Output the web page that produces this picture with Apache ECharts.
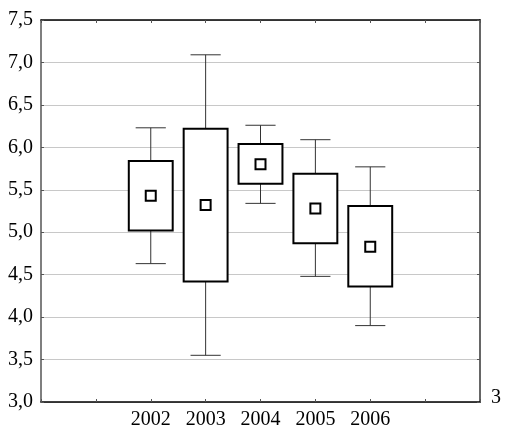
<!DOCTYPE html>
<html>
<head>
<meta charset="utf-8">
<script src="https://cdn.jsdelivr.net/npm/echarts@6/dist/echarts.min.js"></script>
<style>
  html, body { margin: 0; padding: 0; background: #fff; }
  #main { width: 507px; height: 428px; }
</style>
</head>
<body>
<div id="main"></div>
<script>
// slots on the x axis: two empty ones on each side of the years
const slots = ['', '', '2002', '2003', '2004', '2005', '2006', '', ''];
const years = ['2002', '2003', '2004', '2005', '2006'];
const means = [5.43, 5.32, 5.80, 5.28, 4.83];
const boxLow = [5.02, 4.42, 5.57, 4.87, 4.36];
const boxHigh = [5.84, 6.22, 6.04, 5.69, 5.31];
const whiskerLow = [4.63, 3.55, 5.34, 4.48, 3.90];
const whiskerHigh = [6.23, 7.09, 6.26, 6.09, 5.77];
const yTicks = [3.0, 3.5, 4.0, 4.5, 5.0, 5.5, 6.0, 6.5, 7.0, 7.5];

const font = '"Liberation Serif", "DejaVu Serif", serif';

let boxData = [];
for (let i = 0; i < years.length; i++) {
    boxData.push([slots.indexOf(years[i]), whiskerLow[i], boxLow[i], means[i], boxHigh[i], whiskerHigh[i]]);
}

function renderBox(params, api) {
    const x = api.value(0);
    const band = api.size([1, 0])[0];
    const pLo = api.coord([x, api.value(1)]);
    const pQ1 = api.coord([x, api.value(2)]);
    const pM = api.coord([x, api.value(3)]);
    const pQ3 = api.coord([x, api.value(4)]);
    const pHi = api.coord([x, api.value(5)]);
    const cx = pM[0];
    const bw = band * 0.8;
    const cw = band * 0.55;
    const ms = 10;
    const thin = { stroke: '#333', lineWidth: 1, fill: null };
    return {
        type: 'group',
        children: [
            { type: 'line', shape: { x1: cx, y1: pHi[1], x2: cx, y2: pQ3[1] }, style: thin },
            { type: 'line', shape: { x1: cx, y1: pQ1[1], x2: cx, y2: pLo[1] }, style: thin },
            { type: 'line', shape: { x1: cx - cw / 2, y1: pHi[1], x2: cx + cw / 2, y2: pHi[1] }, style: thin },
            { type: 'line', shape: { x1: cx - cw / 2, y1: pLo[1], x2: cx + cw / 2, y2: pLo[1] }, style: thin },
            { type: 'rect', shape: { x: cx - bw / 2, y: pQ3[1], width: bw, height: pQ1[1] - pQ3[1] },
              style: { fill: '#fff', stroke: '#000', lineWidth: 2 } },
            { type: 'rect', shape: { x: cx - ms / 2, y: pM[1] - ms / 2, width: ms, height: ms },
              style: { fill: '#fff', stroke: '#000', lineWidth: 2 } }
        ]
    };
}

const chart = echarts.init(document.getElementById('main'));
chart.setOption({
    animation: false,
    backgroundColor: '#fff',
    title: {
        text: '3', right: 1, top: 383,
        textStyle: { fontFamily: font, fontSize: 20, fontWeight: 'normal', color: '#000' }
    },
    grid: { left: 41, right: 27, top: 20, bottom: 26, outerBoundsMode: 'none' },
    xAxis: [{
        type: 'category',
        data: slots,
        boundaryGap: false,
        axisLine: { lineStyle: { color: '#000', width: 1.5 } },
        axisTick: { inside: true, length: 3, lineStyle: { color: '#555' } },
        axisLabel: { fontFamily: font, fontSize: 20, color: '#000', margin: 8, interval: 0 },
        splitLine: { show: false }
    }, {
        type: 'category',
        data: slots,
        position: 'top',
        boundaryGap: false,
        axisLine: { lineStyle: { color: '#000', width: 1.5 } },
        axisTick: { inside: true, length: 3, lineStyle: { color: '#555' } },
        axisLabel: { show: false },
        splitLine: { show: false }
    }],
    yAxis: [{
        type: 'value',
        min: 3, max: 7.5, interval: 0.5,
        axisLine: { show: true, lineStyle: { color: '#555', width: 1.5 } },
        axisTick: { show: true, inside: true, length: 3, lineStyle: { color: '#555' } },
        axisLabel: {
            fontFamily: font, fontSize: 20, color: '#000', margin: 8,
            formatter: function (v) { return v.toFixed(1).replace('.', ','); }
        },
        splitLine: { show: true, lineStyle: { color: '#c8c8c8', width: 1 } }
    }, {
        type: 'value',
        position: 'right',
        min: 3, max: 7.5, interval: 0.5,
        axisLine: { show: true, lineStyle: { color: '#666', width: 2 } },
        axisTick: { show: true, inside: true, length: 3, lineStyle: { color: '#555' } },
        axisLabel: { show: false },
        splitLine: { show: false }
    }],
    series: [{
        type: 'custom',
        renderItem: renderBox,
        data: boxData,
        encode: { x: 0, y: [1, 2, 3, 4, 5] },
        z: 3
    }]
});
</script>
</body>
</html>
